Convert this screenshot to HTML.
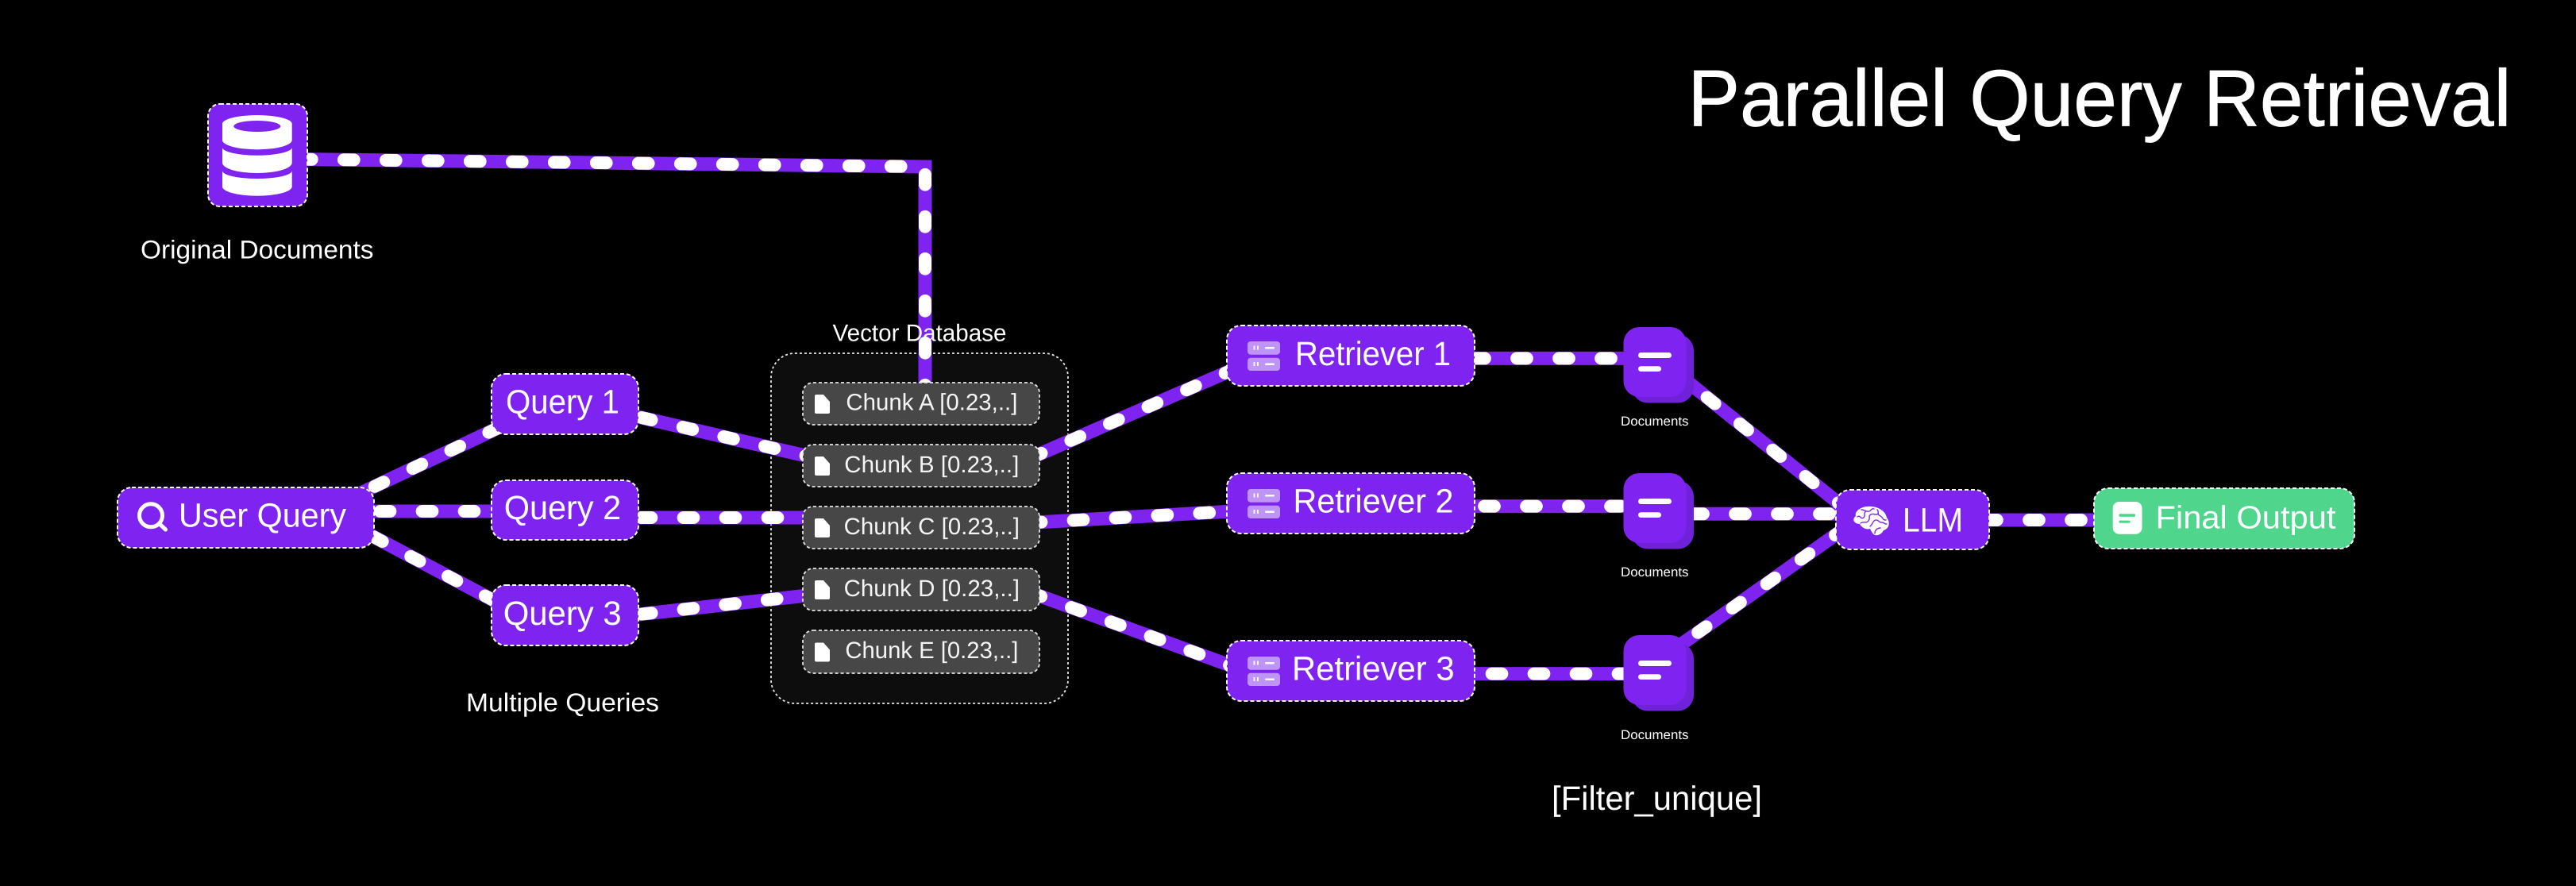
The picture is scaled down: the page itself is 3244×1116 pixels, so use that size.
<!DOCTYPE html>
<html lang="en">
<head>
<meta charset="utf-8">
<title>Parallel Query Retrieval</title>
<style>
html,body{margin:0;padding:0;background:#000;width:3244px;height:1116px;overflow:hidden}
svg{display:block}
text{font-family:"Liberation Sans",sans-serif;fill:#fff;text-rendering:geometricPrecision}
.p{fill:none;stroke:#7f23f0;stroke-width:17;stroke-linejoin:miter}
.w{fill:none;stroke:#fff;stroke-width:16;stroke-linecap:round;stroke-dasharray:12.7 40.3;stroke-dashoffset:6.35;stroke-linejoin:miter}
.n{fill:#7f23f0;stroke:#fff;stroke-width:2;stroke-dasharray:5 3}
.g{fill:#50d68c;stroke:#fff;stroke-width:2;stroke-dasharray:5 3}
.c{fill:#474747;stroke:#e4e4e4;stroke-width:1.8;stroke-dasharray:4 3}
.t{font-size:42.5px}
.ch{font-size:29.5px;fill:#f4f4f4}
.l{font-size:32.5px}
.d{font-size:16.5px}
.rb{fill:#bf94f7}
.dk{fill:#6f22d8}
</style>
</head>
<body>
<svg width="3244" height="1116" viewBox="0 0 3244 1116" xmlns="http://www.w3.org/2000/svg">
<rect width="3244" height="1116" fill="#000"/>

<!-- container -->
<rect x="971" y="445" width="374" height="441" rx="30" fill="#0d0d0d" stroke="#e8e8e8" stroke-width="1.8" stroke-dasharray="3 3"/>

<!-- connectors: purple -->
<g class="p">
<path d="M333.3 200 L1165 210 V500"/>
<path d="M429.6 632.7 L640 533"/>
<path d="M432 644 H640"/>
<path d="M429.2 654.2 L640 766"/>
<path d="M762.7 515.5 L1040 580"/>
<path d="M761 652 H1040"/>
<path d="M761.6 778.8 L1040 747.3"/>
<path d="M1257.1 594.7 L1570 458"/>
<path d="M1252.2 661 L1570 643"/>
<path d="M1255.4 730.9 L1570 845.8"/>
<path d="M1810.5 451.4 H2060"/>
<path d="M1822.5 637.6 H2060"/>
<path d="M1832 848.6 H2060"/>
<path d="M2113.3 471.3 L2340 653.5"/>
<path d="M2085.5 647.3 H2340"/>
<path d="M2100.2 823.7 L2340 653.4"/>
<path d="M2455.5 655 H2660"/>
</g>
<!-- connectors: white dashes -->
<g class="w">
<path d="M333.3 200 L1165 210 V500"/>
<path d="M429.6 632.7 L640 533"/>
<path d="M432 644 H640"/>
<path d="M429.2 654.2 L640 766"/>
<path d="M762.7 515.5 L1040 580"/>
<path d="M761 652 H1040"/>
<path d="M761.6 778.8 L1040 747.3"/>
<path d="M1257.1 594.7 L1570 458"/>
<path d="M1252.2 661 L1570 643"/>
<path d="M1255.4 730.9 L1570 845.8"/>
<path d="M1810.5 451.4 H2060"/>
<path d="M1822.5 637.6 H2060"/>
<path d="M1832 848.6 H2060"/>
<path d="M2113.3 471.3 L2340 653.5"/>
<path d="M2085.5 647.3 H2340"/>
<path d="M2100.2 823.7 L2340 653.4"/>
<path d="M2455.5 655 H2660"/>
</g>

<!-- title -->
<text x="2125.5" y="158.7" font-size="101" stroke="#fff" stroke-width="0.8" textLength="1037" lengthAdjust="spacingAndGlyphs">Parallel Query Retrieval</text>

<!-- original documents -->
<rect class="n" x="262" y="131" width="125" height="129" rx="15"/>
<g fill="#fff">
<path fill-rule="evenodd" d="M280 156 A43.8 11 0 0 1 367.7 156 V176.5 A43.8 11.8 0 0 1 280 176.5 Z M294.3 159 A29.5 7 0 0 0 353.3 159 A29.5 7 0 0 0 294.3 159 Z"/>
<path d="M280 185.7 A43.8 10 0 0 0 367.7 185.7 V205 A43.8 13 0 0 1 280 205 Z"/>
<path d="M280 215 A43.8 10 0 0 0 367.7 215 V235 A43.8 11.7 0 0 1 280 235 Z"/>
</g>
<text class="l" x="177" y="325.4" textLength="293.5" lengthAdjust="spacingAndGlyphs">Original Documents</text>

<!-- user query -->
<rect class="n" x="148" y="614" width="323" height="76" rx="18"/>
<circle cx="190" cy="649.3" r="14.5" fill="none" stroke="#fff" stroke-width="5"/>
<path d="M200.5 659.5 L208.5 667" stroke="#fff" stroke-width="5" stroke-linecap="round" fill="none"/>
<text class="t" x="225" y="663.3" textLength="211" lengthAdjust="spacingAndGlyphs">User Query</text>

<!-- queries -->
<rect class="n" x="619" y="471" width="185" height="76" rx="18"/>
<text class="t" x="637" y="520.7" textLength="143" lengthAdjust="spacingAndGlyphs">Query 1</text>
<rect class="n" x="619" y="605" width="185" height="75" rx="18"/>
<text class="t" x="634.7" y="654" textLength="147.5" lengthAdjust="spacingAndGlyphs">Query 2</text>
<rect class="n" x="619" y="737" width="185" height="76" rx="18"/>
<text class="t" x="633.7" y="786.9" textLength="149" lengthAdjust="spacingAndGlyphs">Query 3</text>
<text class="l" x="587" y="896" textLength="243" lengthAdjust="spacingAndGlyphs">Multiple Queries</text>

<!-- vector database -->
<text x="1048.5" y="429.3" font-size="30" textLength="219" lengthAdjust="spacingAndGlyphs">Vector Database</text>

<rect class="c" x="1011" y="482" width="298" height="53" rx="13"/>
<rect class="c" x="1011" y="560" width="298" height="53" rx="13"/>
<rect class="c" x="1011" y="638" width="298" height="53" rx="13"/>
<rect class="c" x="1011" y="716" width="298" height="53" rx="13"/>
<rect class="c" x="1011" y="794" width="298" height="54" rx="13"/>
<g fill="#fff">
<path d="M1028 497 H1037 L1045 506 V519 Q1045 521 1043 521 H1028 Q1026 521 1026 519 V499 Q1026 497 1028 497 Z"/>
<path d="M1028 575 H1037 L1045 584 V597 Q1045 599 1043 599 H1028 Q1026 599 1026 597 V577 Q1026 575 1028 575 Z"/>
<path d="M1028 653 H1037 L1045 662 V675 Q1045 677 1043 677 H1028 Q1026 677 1026 675 V655 Q1026 653 1028 653 Z"/>
<path d="M1028 731 H1037 L1045 740 V753 Q1045 755 1043 755 H1028 Q1026 755 1026 753 V733 Q1026 731 1028 731 Z"/>
<path d="M1028 809.5 H1037 L1045 818.5 V831.5 Q1045 833.5 1043 833.5 H1028 Q1026 833.5 1026 831.5 V811.5 Q1026 809.5 1028 809.5 Z"/>
</g>
<text class="ch" x="1065.4" y="516.5" textLength="216" lengthAdjust="spacingAndGlyphs">Chunk A [0.23,..]</text>
<text class="ch" x="1063.3" y="594.8" textLength="220" lengthAdjust="spacingAndGlyphs">Chunk B [0.23,..]</text>
<text class="ch" x="1062.6" y="672.8" textLength="221.4" lengthAdjust="spacingAndGlyphs">Chunk C [0.23,..]</text>
<text class="ch" x="1062.6" y="751.2" textLength="221.4" lengthAdjust="spacingAndGlyphs">Chunk D [0.23,..]</text>
<text class="ch" x="1064.4" y="829.2" textLength="218" lengthAdjust="spacingAndGlyphs">Chunk E [0.23,..]</text>

<!-- retrievers -->
<rect class="n" x="1545" y="410" width="312" height="76" rx="18"/>
<rect class="n" x="1545" y="596" width="312" height="76" rx="18"/>
<rect class="n" x="1545" y="807" width="312" height="76" rx="18"/>

<g>
<rect class="rb" x="1571" y="430" width="41" height="16.7" rx="4"/>
<rect class="rb" x="1571" y="450.7" width="41" height="16.3" rx="4"/>
<g fill="#fff">
<rect x="1578.5" y="435.5" width="2" height="5"/><rect x="1583" y="435.5" width="2" height="5"/><rect x="1593" y="437" width="12" height="2.5" rx="1"/>
<rect x="1578.5" y="456" width="2" height="5"/><rect x="1583" y="456" width="2" height="5"/><rect x="1593" y="457.5" width="12" height="2.5" rx="1"/>
</g>
</g>
<g transform="translate(0 186)">
<rect class="rb" x="1571" y="430" width="41" height="16.7" rx="4"/>
<rect class="rb" x="1571" y="450.7" width="41" height="16.3" rx="4"/>
<g fill="#fff">
<rect x="1578.5" y="435.5" width="2" height="5"/><rect x="1583" y="435.5" width="2" height="5"/><rect x="1593" y="437" width="12" height="2.5" rx="1"/>
<rect x="1578.5" y="456" width="2" height="5"/><rect x="1583" y="456" width="2" height="5"/><rect x="1593" y="457.5" width="12" height="2.5" rx="1"/>
</g>
</g>
<g transform="translate(0 397)">
<rect class="rb" x="1571" y="430" width="41" height="16.7" rx="4"/>
<rect class="rb" x="1571" y="450.7" width="41" height="16.3" rx="4"/>
<g fill="#fff">
<rect x="1578.5" y="435.5" width="2" height="5"/><rect x="1583" y="435.5" width="2" height="5"/><rect x="1593" y="437" width="12" height="2.5" rx="1"/>
<rect x="1578.5" y="456" width="2" height="5"/><rect x="1583" y="456" width="2" height="5"/><rect x="1593" y="457.5" width="12" height="2.5" rx="1"/>
</g>
</g>
<text class="t" x="1631" y="460" textLength="196" lengthAdjust="spacingAndGlyphs">Retriever 1</text>
<text class="t" x="1628.5" y="645.7" textLength="202" lengthAdjust="spacingAndGlyphs">Retriever 2</text>
<text class="t" x="1627" y="856.3" textLength="204.6" lengthAdjust="spacingAndGlyphs">Retriever 3</text>

<!-- document stacks -->
<g>
<rect class="dk" x="2055" y="421.5" width="78" height="86" rx="20"/>
<rect x="2044.5" y="412" width="79" height="88" rx="20" fill="#7f23f0"/>
<rect x="2063" y="444" width="42" height="7" rx="3.5" fill="#fff"/>
<rect x="2063" y="461.3" width="29" height="6.7" rx="3.3" fill="#fff"/>
</g>
<g transform="translate(0 184)">
<rect class="dk" x="2055" y="421.5" width="78" height="86" rx="20"/>
<rect x="2044.5" y="412" width="79" height="88" rx="20" fill="#7f23f0"/>
<rect x="2063" y="444" width="42" height="7" rx="3.5" fill="#fff"/>
<rect x="2063" y="461.3" width="29" height="6.7" rx="3.3" fill="#fff"/>
</g>
<g transform="translate(0 388)">
<rect class="dk" x="2055" y="421.5" width="78" height="86" rx="20"/>
<rect x="2044.5" y="412" width="79" height="88" rx="20" fill="#7f23f0"/>
<rect x="2063" y="444" width="42" height="7" rx="3.5" fill="#fff"/>
<rect x="2063" y="461.3" width="29" height="6.7" rx="3.3" fill="#fff"/>
</g>
<text class="d" x="2041" y="536" textLength="85.5" lengthAdjust="spacingAndGlyphs">Documents</text>
<text class="d" x="2041" y="726" textLength="85.5" lengthAdjust="spacingAndGlyphs">Documents</text>
<text class="d" x="2041" y="931" textLength="85.5" lengthAdjust="spacingAndGlyphs">Documents</text>

<text x="1954" y="1020" font-size="42.5" textLength="265" lengthAdjust="spacingAndGlyphs">[Filter_unique]</text>

<!-- LLM -->
<rect class="n" x="2312" y="617" width="193" height="75" rx="18"/>
<path fill="#fff" d="M2337 650 C2335 644 2344 638 2352 638 C2362 637 2374 642 2376 652 C2381 658 2379 666 2372 668 C2370 672 2366 675 2361 674 C2358 672 2357 670 2355 666 C2350 668 2344 664 2342 660 C2336 660 2331 655 2337 650 Z"/>
<g fill="none" stroke="#7f23f0" stroke-width="1.4" stroke-linecap="round">
<path d="M2339 651 C2343 648 2343 655 2347 652 C2350 649 2346 646 2350 644"/>
<path d="M2344 642 C2348 642 2350 645 2354 644 C2357 643 2356 640 2360 641"/>
<path d="M2343 659 C2347 656 2350 660 2353 656 C2356 652 2352 650 2356 648 C2360 646 2362 650 2365 647"/>
<path d="M2364 642 C2367 645 2363 648 2368 650 C2372 652 2370 655 2375 655"/>
<path d="M2355 663 C2359 660 2358 656 2362 655 C2366 654 2366 659 2370 658 C2373 658 2374 661 2376 660"/>
<path d="M2361 672 C2361 668 2364 665 2368 665"/>
</g>
<text class="t" x="2396" y="669.3" textLength="76" lengthAdjust="spacingAndGlyphs">LLM</text>

<!-- final output -->
<rect class="g" x="2637" y="615" width="328" height="76" rx="18"/>
<rect x="2660.7" y="632" width="36.8" height="40.7" rx="8" fill="#fff"/>
<rect x="2668.4" y="647.3" width="20.6" height="3.6" rx="1.5" fill="#50d68c"/>
<rect x="2668.4" y="655.6" width="14.2" height="3.2" rx="1.5" fill="#50d68c"/>
<text x="2714.5" y="665.3" font-size="40.5" textLength="227" lengthAdjust="spacingAndGlyphs">Final Output</text>
</svg>
</body>
</html>
